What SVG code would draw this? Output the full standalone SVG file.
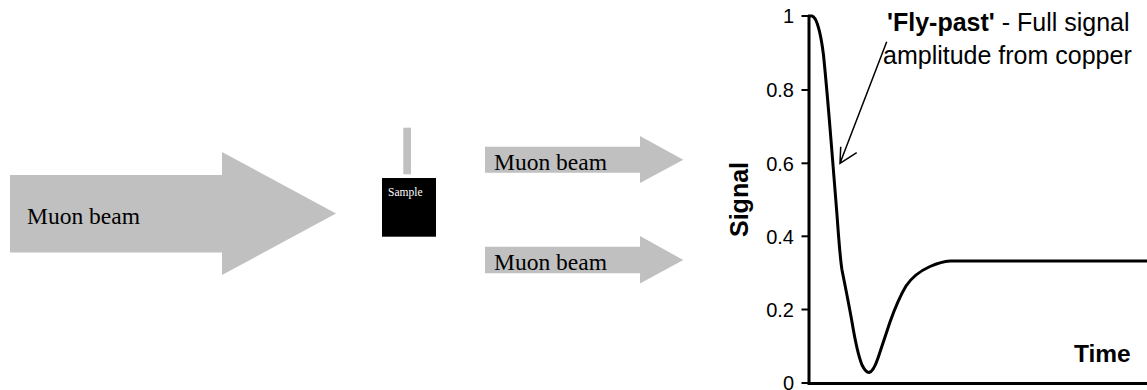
<svg xmlns="http://www.w3.org/2000/svg" width="1147" height="390" viewBox="0 0 1147 390">
<style>
.beam{fill:#C0C0C0;stroke:none}
.serif{font-family:"Liberation Serif","Times New Roman",serif;fill:#000}
.sans{font-family:"Liberation Sans",Arial,sans-serif;fill:#000}
.tick{font-family:"Liberation Sans",Arial,sans-serif;font-size:20px;text-anchor:end;fill:#000}
.axis{stroke:#000;stroke-width:3;fill:none}
.tk{stroke:#000;stroke-width:2}
</style>
<rect width="1147" height="390" fill="#fff"/>
<g id="beam-in">
<polygon class="beam" points="10,175 222,175 222,152 336,213.5 222,275 222,252.5 10,252.5"/>
<text class="serif" x="27" y="224" font-size="23.5">Muon beam</text>
</g>
<g id="sample">
<rect x="403.3" y="127.7" width="7.7" height="46.6" fill="#C0C0C0"/>
<rect x="382" y="178" width="54" height="58.7" fill="#000"/>
<text x="388" y="196" font-size="11.5" font-family="Liberation Serif,'Times New Roman',serif" fill="#fff">Sample</text>
</g>
<g id="beam-out-upper">
<polygon class="beam" points="485,146.7 640,146.7 640,136 683.3,159.7 640,183 640,172.7 485,172.7"/>
<text class="serif" x="494" y="170" font-size="23.5">Muon beam</text>
</g>
<g id="beam-out-lower">
<polygon class="beam" points="485,246.7 640,246.7 640,236 683.3,260 640,283.5 640,273.3 485,273.3"/>
<text class="serif" x="494" y="270" font-size="23.5">Muon beam</text>
</g>
<g id="chart">
<line class="axis" x1="809" y1="15" x2="809" y2="383.5"/>
<line class="axis" x1="807.5" y1="383.5" x2="1147" y2="383.5"/>
<g class="tk">
<line x1="801.5" y1="16" x2="809" y2="16"/>
<line x1="801.5" y1="90" x2="809" y2="90"/>
<line x1="801.5" y1="163.3" x2="809" y2="163.3"/>
<line x1="801.5" y1="236.3" x2="809" y2="236.3"/>
<line x1="801.5" y1="309.5" x2="809" y2="309.5"/>
<line x1="801.5" y1="383" x2="809" y2="383"/>
</g>
<text class="tick" x="794" y="23">1</text>
<text class="tick" x="794" y="97">0.8</text>
<text class="tick" x="794" y="170.5">0.6</text>
<text class="tick" x="794" y="243.5">0.4</text>
<text class="tick" x="794" y="316.7">0.2</text>
<text class="tick" x="794" y="389.5">0</text>
<text class="sans" transform="translate(748,199.5) rotate(-90)" text-anchor="middle" font-size="25" font-weight="bold">Signal</text>
<text class="sans" x="1074" y="361.7" font-size="24.5" font-weight="bold">Time</text>
<path class="axis" d="M808,16 L812,16 C817,17 821,35 823.5,55 C826,80 829,115 831,140 C833,165 835,190 837,215 C838.5,235 840,258 842,270 C845,285 849,305 852,322 C855,340 858,355 862,365 C865,371 867,372.5 869,372.5 C872,372 875,367 878,358 C882,346 886,334 890,322 C895,308 900,296 906,286 C912,277 920,271 930,266.5 C937,263.5 942,261.5 950,261 L1147,261"/>
</g>
<g id="annotation">
<text class="sans" x="887" y="31" font-size="25"><tspan font-weight="bold">'Fly-past'</tspan> - Full signal</text>
<text class="sans" x="883" y="64" font-size="25">amplitude from copper</text>
</g>
<g id="connectors">
<path d="M886.7,41.7 L840,163.3 M856.7,152.7 L840,163.3 L840.7,146.7" fill="none" stroke="#000" stroke-width="1.5"/>
</g>
</svg>
